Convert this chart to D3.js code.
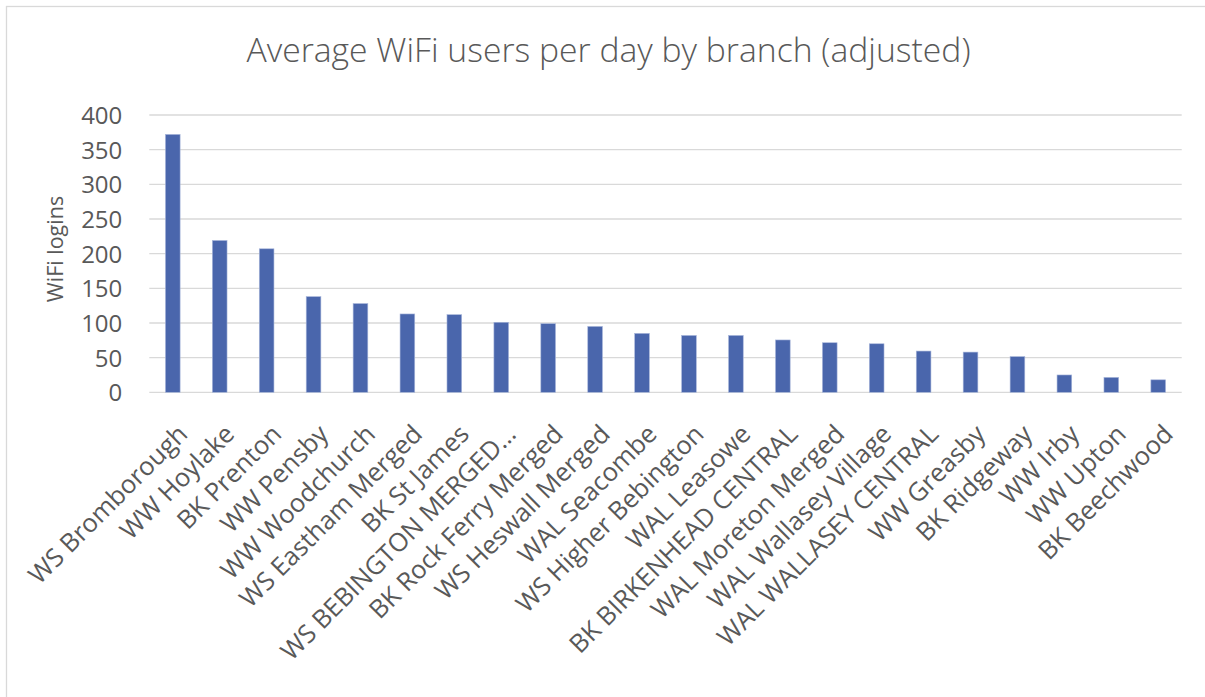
<!DOCTYPE html>
<html>
<head>
<meta charset="utf-8">
<script src="https://cdn.jsdelivr.net/npm/d3@7"></script>
<style>
  html, body { margin: 0; padding: 0; background: #ffffff; }
  svg { display: block; }
  text { font-family: "Open Sans", sans-serif; fill: #595959; }
</style>
</head>
<body>
<svg id="chart" width="1205" height="697"></svg>
<script>
const categories = [
  "WS Bromborough", "WW Hoylake", "BK Prenton", "WW Pensby", "WW Woodchurch",
  "WS Eastham Merged", "BK St James", "WS BEBINGTON MERGED…", "BK Rock Ferry Merged",
  "WS Heswall Merged", "WAL Seacombe", "WS Higher Bebington", "WAL Leasowe",
  "BK BIRKENHEAD CENTRAL", "WAL Moreton Merged", "WAL Wallasey Village",
  "WAL WALLASEY CENTRAL", "WW Greasby", "BK Ridgeway", "WW Irby", "WW Upton", "BK Beechwood"
];
const values = [372, 219, 207, 138, 128, 113, 112, 101, 99, 95, 85, 82, 82, 75.5, 71.5, 70, 59.5, 58, 51.5, 25, 21.5, 18];
const yTicks = [0, 50, 100, 150, 200, 250, 300, 350, 400];
const titleText = "Average WiFi users per day by branch (adjusted)";
const yAxisTitle = "WiFi logins";

const svg = d3.select("#chart");

// chart area border
svg.append("rect")
  .attr("x", 6.5).attr("y", 6.5)
  .attr("width", 1240).attr("height", 760)
  .attr("fill", "none").attr("stroke", "#d9d9d9").attr("stroke-width", 1.3);

const plotLeft = 149.3, plotRight = 1181.7, plotTop = 115, plotBottom = 392.3;

const x = d3.scaleBand()
  .domain(categories)
  .range([plotLeft, plotRight])
  .paddingInner(0.687)
  .paddingOuter(0.687 / 2);

const y = d3.scaleLinear().domain([0, 400]).range([plotBottom, plotTop]);

// gridlines
svg.append("g")
  .selectAll("line")
  .data(yTicks)
  .join("line")
  .attr("x1", plotLeft).attr("x2", plotRight)
  .attr("y1", d => y(d)).attr("y2", d => y(d))
  .attr("stroke", "#d9d9d9").attr("stroke-width", 1.3);

// y axis labels
const yAxis = d3.axisLeft(y).tickValues(yTicks).tickSize(0).tickPadding(0);
const gy = svg.append("g").attr("transform", `translate(${plotLeft - 27},0)`).call(yAxis);
gy.select(".domain").remove();
gy.selectAll("text")
  .attr("font-size", 24)
  .attr("font-family", "Open Sans, sans-serif")
  .attr("fill", "#595959")
  .attr("dy", "0.36em");

// bars
svg.append("g")
  .selectAll("rect")
  .data(values)
  .join("rect")
  .attr("x", (d, i) => x(categories[i]))
  .attr("y", d => y(d))
  .attr("width", x.bandwidth())
  .attr("height", d => y(0) - y(d))
  .attr("fill", "#4a66ac")
  .attr("stroke", "#a9b7db")
  .attr("stroke-width", 0.6);

// x axis labels
const xAxis = d3.axisBottom(x).tickSize(0).tickPadding(0);
const gx = svg.append("g").attr("transform", `translate(0,${plotBottom})`).call(xAxis);
gx.select(".domain").remove();
gx.selectAll(".tick text")
  .attr("font-size", 25.5)
  .attr("font-family", "Open Sans, sans-serif")
  .attr("fill", "#595959")
  .attr("text-anchor", "end")
  .attr("y", 0)
  .attr("dy", "0.35em")
  .attr("transform", "translate(10,37) rotate(-45)");

// title
svg.append("text")
  .attr("x", 608.5).attr("y", 61.5)
  .attr("text-anchor", "middle")
  .attr("font-size", 33.7)
  .attr("font-weight", 300)
  .text(titleText);

// y axis title
svg.append("text")
  .attr("transform", "translate(63,249) rotate(-90)")
  .attr("text-anchor", "middle")
  .attr("font-size", 21.5)
  .text(yAxisTitle);
</script>
</body>
</html>
